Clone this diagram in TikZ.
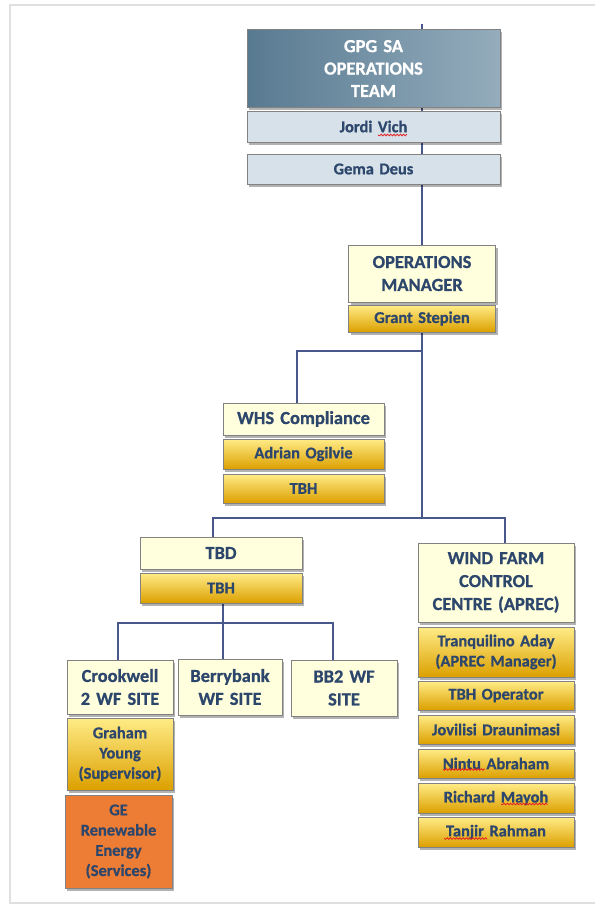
\documentclass[tikz,border=0pt]{standalone}
\usepackage{fontspec}
\setmainfont{Carlito}[BoldFeatures={FakeBold=0.8}, WordSpace=0.85]
\usetikzlibrary{shadows,backgrounds,decorations.pathmorphing}
\definecolor{txt}{RGB}{45,70,108}
\definecolor{conncol}{RGB}{72,88,140}
\definecolor{cream}{RGB}{255,255,221}
\definecolor{goldtop}{RGB}{255,236,135}
\definecolor{goldmid}{RGB}{255,205,10}
\definecolor{goldbot}{RGB}{220,160,0}
\definecolor{paleblue}{RGB}{214,225,233}
\definecolor{hdrdark}{RGB}{88,122,145}
\definecolor{hdrlight}{RGB}{148,172,188}
\definecolor{orangebox}{RGB}{237,125,52}
\definecolor{bordergray}{RGB}{130,130,130}
\definecolor{spellred}{RGB}{230,30,30}
\newcommand\namefont{\bfseries\fontsize{16.5}{20.3}\selectfont}
\newcommand\titlefont{\bfseries\fontsize{18.5}{23}\selectfont}
\tikzset{
  box/.style={rectangle, draw=bordergray, line width=1bp, inner sep=1bp,
    align=center, text=txt,
    drop shadow={shadow xshift=2bp, shadow yshift=-2.5bp, fill=black, opacity=0.3}},
  titlebox/.style={box, fill=cream, font=\titlefont},
  namebox/.style={box, top color=goldtop, middle color=goldmid, bottom color=goldbot, font=\namefont},
  bluebox/.style={box, fill=paleblue, font=\namefont},
  headbox/.style={box, left color=hdrdark, right color=hdrlight, text=white,
    font=\bfseries\fontsize{18.5}{22.5}\selectfont},
  orangebx/.style={box, fill=orangebox, font=\namefont},
  conn/.style={draw=conncol, line width=1.7bp},
  squigline/.style={color=spellred, line width=0.8bp},
  sz/.style 2 args={minimum width=#1bp, minimum height=#2bp, text width=#1bp-4bp}
}
% wavy spell-check line from x=#1 to x=#2 at height #3
\newcommand\wavy[3]{%
  \draw[squigline] (#1,#3)
    \foreach \k in {1,...,40}{
      \pgfextra{\pgfmathsetmacro\xx{#1+1.6*\k}\pgfmathsetmacro\yy{#3+mod(\k,2)*1.6-0.8}}
      \ifdim\xx pt<#2pt -- (\xx,\yy)\fi
    };%
}
\begin{document}
\begin{tikzpicture}[x=1bp,y=-1bp]
\useasboundingbox (0,0) rectangle (595,907);
\draw[black!12, line width=2.5bp] (595,5) -- (10,5) -- (10,903) -- (595,903);

% header column
\node[headbox, sz={253}{77}] (gpg) at (373.5,68.5) {GPG SA\\OPERATIONS\\TEAM};
\node[bluebox, sz={253}{31}] (jordi) at (373.5,126.5) {Jordi Vich};
\node[bluebox, sz={253}{30}] (gema) at (373.5,169) {Gema Deus};

% operations manager
\node[titlebox, sz={147}{57}] (ops) at (422,273.5) {OPERATIONS\\MANAGER};
\node[namebox, sz={147}{27}] (grant) at (422,318.5) {Grant Stepien};

% WHS
\node[titlebox, sz={161}{32}] (whs) at (303.5,419) {WHS Compliance};
\node[namebox, sz={161}{30}] (adrian) at (303.5,454) {Adrian Ogilvie};
\node[namebox, sz={161}{29}] (tbha) at (303.5,488.5) {TBH};

% TBD
\node[titlebox, sz={162}{32}] (tbd) at (221,553) {TBD};
\node[namebox, sz={162}{30}] (tbhb) at (221,588) {TBH};

% sites
\node[titlebox, sz={106}{54}] (crook) at (120,687) {Crookwell\\2 WF SITE};
\node[titlebox, sz={104}{56}] (berry) at (230,687) {Berrybank\\WF SITE};
\node[titlebox, sz={106}{56}] (bbtwo) at (344,688) {BB2 WF\\SITE};
\node[namebox, sz={106}{72}] (graham) at (120,754) {Graham\\Young\\(Supervisor)};
\node[orangebx, sz={107}{93}] (ge) at (118.5,841.5) {GE\\Renewable\\Energy\\(Services)};

% control centre
\node[titlebox, sz={156}{79}] (wfcc) at (496,582.5) {WIND FARM\\CONTROL\\CENTRE (APREC)};
\node[namebox, sz={156}{50}] (tranq) at (496,652) {Tranquilino Aday\\(APREC Manager)};
\node[namebox, sz={156}{29}] (tbhop) at (496,695.5) {TBH Operator};
\node[namebox, sz={156}{29}] (jov) at (496,729.5) {Jovilisi Draunimasi};
\node[namebox, sz={156}{29}] (nintu) at (496,763.5) {Nintu Abraham};
\node[namebox, sz={156}{30}] (rich) at (496,798) {Richard Mayoh};
\node[namebox, sz={156}{30}] (tanjir) at (496,832) {Tanjir Rahman};

% spell-check underlines
\wavy{378}{408}{135}
\wavy{443}{485}{769.5}
\wavy{501}{549}{804}
\wavy{444}{488}{838.5}

% connectors
\coordinate (topend) at (422,24);
\coordinate (b1) at (297,351);
\coordinate (b2l) at (213,518);
\coordinate (b2r) at (505,518);
\coordinate (b3l) at (118,623);
\coordinate (b3m) at (223,623);
\coordinate (b3r) at (333,623);
\begin{scope}[on background layer]
\draw[conn] (topend) -- (ops.north);
\draw[conn] (grant.south) |- (b1) -- (b1 |- whs.north);
\draw[conn] (grant.south) -- (grant.south |- b2l);
\draw[conn] (b2l |- tbd.north) -- (b2l) -- (b2r) -- (b2r |- wfcc.north);
\draw[conn] (tbhb.south -| b3m) -- (b3m) -- (b3m |- berry.north);
\draw[conn] (b3l |- crook.north) -- (b3l) -- (b3r) -- (b3r |- bbtwo.north);
\end{scope}
\end{tikzpicture}
\end{document}
